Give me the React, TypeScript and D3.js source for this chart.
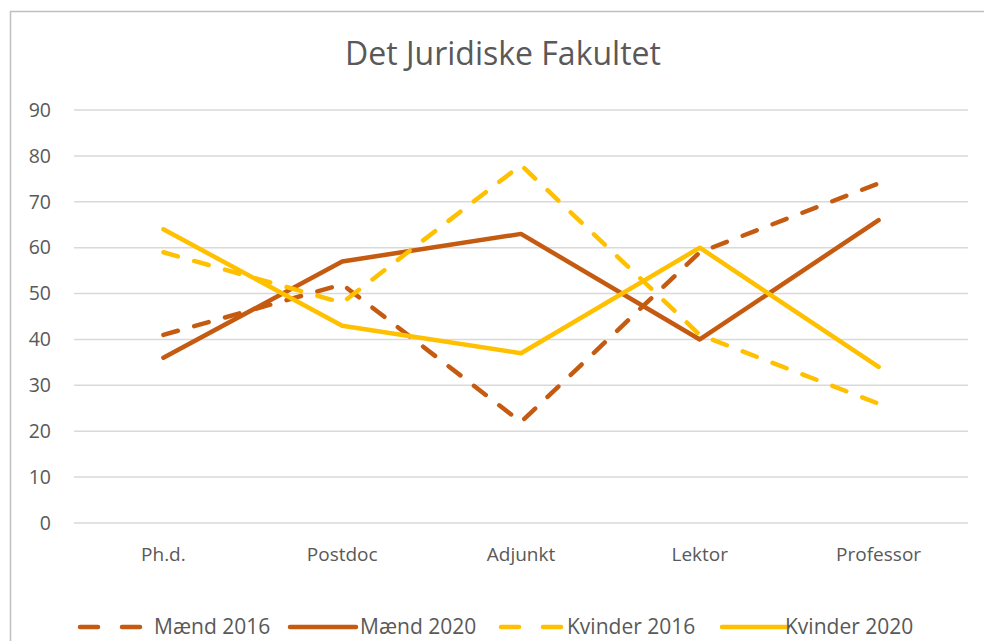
import React, { useRef, useEffect } from 'react';
import * as d3 from 'd3';

// Kategorier og serier (procent)
const categories = ['Ph.d.', 'Postdoc', 'Adjunkt', 'Lektor', 'Professor'];
const maend2016 = [41, 52, 22, 59, 74];
const maend2020 = [36, 57, 63, 40, 66];
const kvinder2016 = [59, 48, 78, 41, 26];
const kvinder2020 = [64, 43, 37, 60, 34];
const yTicks = [0, 10, 20, 30, 40, 50, 60, 70, 80, 90];

const series = [
  { name: 'Mænd 2016', values: maend2016, color: '#C55A11', dashed: true },
  { name: 'Mænd 2020', values: maend2020, color: '#C55A11', dashed: false },
  { name: 'Kvinder 2016', values: kvinder2016, color: '#FFC000', dashed: true },
  { name: 'Kvinder 2020', values: kvinder2020, color: '#FFC000', dashed: false },
];

const FONT = '"Open Sans", sans-serif';

const App = () => {
  const svgRef = useRef<SVGSVGElement>(null);

  useEffect(() => {
    if (!svgRef.current) return;
    const svg = d3.select(svgRef.current);
    svg.selectAll('*').remove();

    const plot = { left: 74, right: 968, top: 110, bottom: 523 };

    // chart frame
    svg.append('rect')
      .attr('x', 10.5).attr('y', 11.5)
      .attr('width', 1000).attr('height', 700)
      .attr('fill', '#fff')
      .attr('stroke', '#bfbfbf').attr('stroke-width', 1.5);

    svg.append('text')
      .attr('x', 503).attr('y', 65)
      .attr('text-anchor', 'middle')
      .attr('font-family', FONT).attr('font-size', 32)
      .attr('fill', '#595959')
      .text('Det Juridiske Fakultet');

    const x = d3.scalePoint<string>()
      .domain(categories)
      .range([plot.left, plot.right])
      .padding(0.5);

    const y = d3.scaleLinear()
      .domain([0, 90])
      .range([plot.bottom, plot.top]);

    // gridlines
    svg.append('g')
      .selectAll('line')
      .data(yTicks)
      .enter()
      .append('line')
      .attr('x1', plot.left).attr('x2', plot.right)
      .attr('y1', d => y(d)).attr('y2', d => y(d))
      .attr('stroke', '#d9d9d9').attr('stroke-width', 1.5);

    // y labels
    svg.append('g')
      .selectAll('text')
      .data(yTicks)
      .enter()
      .append('text')
      .attr('x', 51).attr('y', d => y(d))
      .attr('dy', '0.35em')
      .attr('text-anchor', 'end')
      .attr('font-family', FONT).attr('font-size', 19.5)
      .attr('fill', '#595959')
      .text(d => d);

    // x labels
    svg.append('g')
      .selectAll('text')
      .data(categories)
      .enter()
      .append('text')
      .attr('x', d => x(d) as number).attr('y', 561)
      .attr('text-anchor', 'middle')
      .attr('font-family', FONT).attr('font-size', 19)
      .attr('fill', '#595959')
      .text(d => d);

    const line = d3.line<number>()
      .x((_, i) => x(categories[i]) as number)
      .y(d => y(d));

    svg.append('g')
      .selectAll('path')
      .data(series)
      .enter()
      .append('path')
      .attr('d', d => line(d.values))
      .attr('fill', 'none')
      .attr('stroke', d => d.color)
      .attr('stroke-width', 4.5)
      .attr('stroke-linecap', 'round')
      .attr('stroke-linejoin', 'round')
      .attr('stroke-dasharray', d => (d.dashed ? '15 17' : null));

    // legend
    const legendX = [76, 288, 497, 720];
    const legendTextX = [78, 72, 70, 65];
    const legend = svg.append('g')
      .selectAll('g')
      .data(series)
      .enter()
      .append('g')
      .attr('transform', (_, i) => `translate(${legendX[i]}, 627)`);

    legend.append('line')
      .attr('x1', d => (d.dashed ? 4 : 2)).attr('x2', 68)
      .attr('stroke', d => d.color)
      .attr('stroke-width', 4.5)
      .attr('stroke-linecap', 'round')
      .attr('stroke-dasharray', d => (d.dashed ? '18 24' : null));

    legend.append('text')
      .attr('x', (_, i) => legendTextX[i])
      .attr('dy', '0.35em')
      .attr('font-family', FONT).attr('font-size', 21)
      .attr('fill', '#595959')
      .text(d => d.name);
  }, []);

  return (
    <svg
      ref={svgRef}
      width={984}
      height={641}
      style={{ position: 'absolute', left: 0, top: 0, display: 'block' }}
    />
  );
};

export default App;
